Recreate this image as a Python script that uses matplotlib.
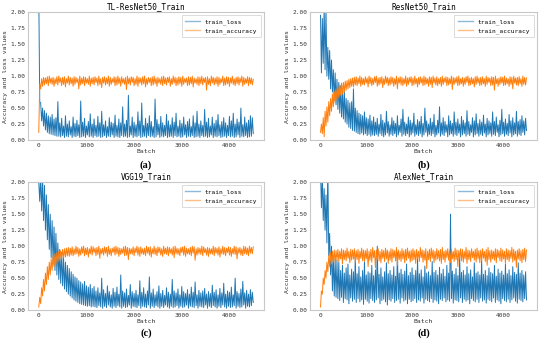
import numpy as np
import matplotlib
matplotlib.use('Agg')
import matplotlib.pyplot as plt

# every curve is stored as two lists:
# one value every 40 batches (batch) and one in between (batch + 20)
batch = np.arange(0, 4481, 40)

titles = ['TL-ResNet50_Train', 'ResNet50_Train', 'VGG19_Train', 'AlexNet_Train']
captions = ['(a)', '(b)', '(c)', '(d)']

# ---- (a) TL-ResNet50 ----
loss_a_hi = [2.30, 0.58, 0.50, 0.46, 0.42, 0.38, 0.36, 0.40, 0.33, 0.35,
             0.60, 0.27, 0.34, 0.22, 0.38, 0.25, 0.30, 0.21, 0.36, 0.26,
             0.31, 0.24, 0.61, 0.28, 0.34, 0.22, 0.29, 0.41, 0.25, 0.33,
             0.23, 0.37, 0.27, 0.45, 0.24, 0.30, 0.21, 0.35, 0.28, 0.26,
             0.39, 0.23, 0.33, 0.27, 0.52, 0.25, 0.31, 0.70, 0.22, 0.36,
             0.28, 0.24, 0.44, 0.30, 0.58, 0.23, 0.34, 0.26, 0.38, 0.29,
             0.21, 0.64, 0.32, 0.25, 0.37, 0.27, 0.23, 0.40, 0.30, 0.24,
             0.35, 0.28, 0.42, 0.22, 0.31, 0.26, 0.36, 0.24, 0.29, 0.33,
             0.21, 0.38, 0.27, 0.45, 0.25, 0.30, 0.23, 0.48, 0.28, 0.34,
             0.22, 0.36, 0.26, 0.31, 0.40, 0.24, 0.29, 0.35, 0.27, 0.23,
             0.37, 0.30, 0.42, 0.25, 0.33, 0.28, 0.50, 0.24, 0.36, 0.27,
             0.31, 0.38, 0.35]
loss_a_lo = [0.60, 0.30, 0.22, 0.16, 0.12, 0.10, 0.09, 0.08, 0.07, 0.06,
             0.06, 0.05, 0.07, 0.04, 0.06, 0.05, 0.08, 0.04, 0.06, 0.05,
             0.07, 0.04, 0.05, 0.06, 0.04, 0.08, 0.05, 0.06, 0.04, 0.07,
             0.05, 0.06, 0.04, 0.05, 0.07, 0.04, 0.06, 0.05, 0.08, 0.04,
             0.06, 0.05, 0.04, 0.07, 0.05, 0.06, 0.04, 0.05, 0.08, 0.04,
             0.06, 0.05, 0.07, 0.04, 0.05, 0.06, 0.04, 0.07, 0.05, 0.06,
             0.04, 0.05, 0.08, 0.04, 0.06, 0.05, 0.07, 0.04, 0.05, 0.06,
             0.04, 0.07, 0.05, 0.06, 0.04, 0.05, 0.08, 0.04, 0.06, 0.05,
             0.07, 0.04, 0.05, 0.06, 0.04, 0.07, 0.05, 0.06, 0.04, 0.05,
             0.08, 0.04, 0.06, 0.05, 0.07, 0.04, 0.05, 0.06, 0.04, 0.07,
             0.05, 0.06, 0.04, 0.05, 0.08, 0.04, 0.06, 0.05, 0.07, 0.04,
             0.05, 0.06, 0.10]
acc_a_lo = [0.12, 0.80, 0.84, 0.86, 0.88, 0.85, 0.89, 0.87, 0.84, 0.88,
            0.86, 0.90, 0.85, 0.87, 0.83, 0.89, 0.86, 0.88, 0.84, 0.87,
            0.90, 0.80, 0.86, 0.88, 0.85, 0.89, 0.87, 0.84, 0.88, 0.86,
            0.90, 0.85, 0.87, 0.82, 0.89, 0.86, 0.88, 0.84, 0.87, 0.90,
            0.85, 0.86, 0.88, 0.84, 0.89, 0.87, 0.79, 0.88, 0.86, 0.90,
            0.85, 0.87, 0.84, 0.89, 0.86, 0.88, 0.83, 0.87, 0.90, 0.85,
            0.86, 0.88, 0.84, 0.89, 0.87, 0.85, 0.88, 0.86, 0.90, 0.84,
            0.87, 0.89, 0.85, 0.86, 0.88, 0.84, 0.87, 0.90, 0.85, 0.86,
            0.88, 0.83, 0.89, 0.87, 0.85, 0.88, 0.86, 0.90, 0.78, 0.87,
            0.85, 0.89, 0.86, 0.88, 0.84, 0.87, 0.90, 0.85, 0.86, 0.88,
            0.84, 0.89, 0.87, 0.85, 0.88, 0.86, 0.90, 0.84, 0.87, 0.89,
            0.85, 0.88, 0.86]
acc_a_hi = [0.88, 0.96, 0.98, 0.97, 0.99, 1.00, 0.97, 0.98, 0.96, 0.99,
            1.00, 0.97, 0.98, 0.99, 0.96, 1.00, 0.98, 0.97, 0.99, 0.98,
            0.96, 1.00, 0.97, 0.99, 0.98, 0.96, 1.00, 0.97, 0.98, 0.99,
            0.97, 1.00, 0.96, 0.98, 0.99, 0.97, 1.00, 0.98, 0.96, 0.99,
            0.98, 1.00, 0.97, 0.99, 0.96, 0.98, 1.00, 0.97, 0.99, 0.98,
            0.96, 1.00, 0.98, 0.97, 0.99, 1.00, 0.96, 0.98, 0.97, 0.99,
            1.00, 0.97, 0.98, 0.96, 0.99, 1.00, 0.97, 0.98, 0.99, 0.96,
            1.00, 0.98, 0.97, 0.99, 0.98, 1.00, 0.96, 0.97, 0.99, 0.98,
            1.00, 0.97, 0.96, 0.99, 0.98, 1.00, 0.97, 0.98, 0.99, 0.96,
            1.00, 0.98, 0.97, 0.99, 0.98, 0.96, 1.00, 0.97, 0.99, 0.98,
            0.97, 1.00, 0.96, 0.98, 0.99, 0.97, 1.00, 0.98, 0.96, 0.99,
            0.98, 0.97, 0.95]

# ---- (b) ResNet50 ----
loss_b_hi = [1.95, 1.90, 2.10, 2.05, 1.45, 1.40, 1.25, 1.10, 1.05, 0.95,
             0.90, 0.85, 0.75, 0.78, 0.65, 0.62, 0.58, 0.60, 0.80, 0.50,
             0.46, 0.42, 0.40, 0.38, 0.44, 0.35, 0.33, 0.39, 0.30, 0.36,
             0.28, 0.34, 0.25, 0.40, 0.31, 0.27, 0.45, 0.29, 0.24, 0.35,
             0.30, 0.26, 0.38, 0.23, 0.33, 0.48, 0.28, 0.25, 0.36, 0.31,
             0.27, 0.42, 0.24, 0.32, 0.29, 0.37, 0.26, 0.50, 0.30, 0.25,
             0.34, 0.28, 0.40, 0.23, 0.31, 0.52, 0.27, 0.35, 0.29, 0.24,
             0.38, 0.30, 0.26, 0.44, 0.28, 0.33, 0.25, 0.37, 0.31, 0.27,
             0.46, 0.29, 0.24, 0.35, 0.30, 0.41, 0.26, 0.32, 0.28, 0.39,
             0.25, 0.34, 0.30, 0.27, 0.44, 0.29, 0.36, 0.24, 0.31, 0.48,
             0.28, 0.33, 0.26, 0.40, 0.30, 0.35, 0.27, 0.45, 0.29, 0.32,
             0.38, 0.30, 0.34]
loss_b_lo = [1.05, 1.20, 1.10, 1.00, 0.95, 0.80, 0.75, 0.62, 0.55, 0.48,
             0.42, 0.36, 0.33, 0.28, 0.25, 0.20, 0.18, 0.15, 0.14, 0.12,
             0.10, 0.09, 0.11, 0.08, 0.10, 0.07, 0.09, 0.06, 0.08, 0.07,
             0.09, 0.06, 0.10, 0.07, 0.05, 0.08, 0.11, 0.06, 0.09, 0.07,
             0.10, 0.05, 0.08, 0.12, 0.06, 0.09, 0.07, 0.10, 0.05, 0.08,
             0.11, 0.06, 0.09, 0.07, 0.10, 0.05, 0.08, 0.12, 0.06, 0.09,
             0.07, 0.10, 0.05, 0.08, 0.11, 0.06, 0.09, 0.07, 0.12, 0.05,
             0.08, 0.10, 0.06, 0.09, 0.07, 0.11, 0.05, 0.08, 0.10, 0.06,
             0.09, 0.07, 0.12, 0.05, 0.08, 0.10, 0.06, 0.09, 0.07, 0.11,
             0.05, 0.08, 0.10, 0.06, 0.09, 0.07, 0.12, 0.05, 0.08, 0.10,
             0.06, 0.09, 0.07, 0.11, 0.05, 0.08, 0.10, 0.06, 0.09, 0.07,
             0.12, 0.08, 0.15]
acc_b_lo = [0.12, 0.10, 0.05, 0.22, 0.28, 0.38, 0.45, 0.52, 0.58, 0.62,
            0.66, 0.70, 0.72, 0.75, 0.78, 0.80, 0.82, 0.84, 0.83, 0.86,
            0.85, 0.88, 0.84, 0.87, 0.86, 0.89, 0.83, 0.88, 0.85, 0.87,
            0.90, 0.84, 0.86, 0.88, 0.82, 0.87, 0.89, 0.85, 0.86, 0.88,
            0.84, 0.87, 0.80, 0.89, 0.86, 0.85, 0.88, 0.84, 0.87, 0.90,
            0.85, 0.86, 0.88, 0.83, 0.87, 0.89, 0.85, 0.86, 0.88, 0.84,
            0.87, 0.82, 0.89, 0.86, 0.85, 0.88, 0.84, 0.87, 0.90, 0.85,
            0.86, 0.88, 0.79, 0.87, 0.89, 0.85, 0.86, 0.88, 0.84, 0.87,
            0.90, 0.85, 0.86, 0.88, 0.83, 0.87, 0.89, 0.85, 0.86, 0.88,
            0.84, 0.87, 0.90, 0.85, 0.86, 0.78, 0.88, 0.84, 0.87, 0.89,
            0.85, 0.86, 0.88, 0.84, 0.87, 0.80, 0.89, 0.86, 0.85, 0.88,
            0.84, 0.87, 0.86]
acc_b_hi = [0.25, 0.35, 0.45, 0.52, 0.60, 0.65, 0.72, 0.76, 0.80, 0.84,
            0.86, 0.89, 0.90, 0.92, 0.93, 0.95, 0.96, 0.97, 0.98, 0.99,
            0.97, 1.00, 0.98, 0.96, 0.99, 0.97, 1.00, 0.98, 0.96, 0.99,
            1.00, 0.97, 0.98, 0.99, 0.96, 1.00, 0.98, 0.97, 0.99, 0.98,
            0.96, 1.00, 0.97, 0.99, 0.98, 0.96, 1.00, 0.97, 0.98, 0.99,
            0.97, 1.00, 0.96, 0.98, 0.99, 0.97, 1.00, 0.98, 0.96, 0.99,
            0.98, 1.00, 0.97, 0.99, 0.96, 0.98, 1.00, 0.97, 0.99, 0.98,
            0.96, 1.00, 0.98, 0.97, 0.99, 1.00, 0.96, 0.98, 0.97, 0.99,
            1.00, 0.97, 0.98, 0.96, 0.99, 1.00, 0.97, 0.98, 0.99, 0.96,
            1.00, 0.98, 0.97, 0.99, 0.98, 1.00, 0.96, 0.97, 0.99, 0.98,
            1.00, 0.97, 0.96, 0.99, 0.98, 1.00, 0.97, 0.98, 0.99, 0.96,
            1.00, 0.98, 0.97]

# ---- (c) VGG19 ----
loss_c_hi = [2.00, 2.10, 2.05, 1.95, 1.80, 1.65, 1.50, 1.40, 1.30, 1.20,
             1.05, 0.95, 0.90, 0.82, 0.75, 0.70, 0.65, 0.60, 0.56, 0.52,
             0.50, 0.46, 0.44, 0.41, 0.45, 0.38, 0.36, 0.40, 0.34, 0.37,
             0.30, 0.35, 0.27, 0.50, 0.32, 0.26, 0.38, 0.29, 0.24, 0.34,
             0.28, 0.36, 0.25, 0.55, 0.30, 0.27, 0.33, 0.23, 0.40, 0.29,
             0.26, 0.31, 0.24, 0.46, 0.28, 0.35, 0.25, 0.30, 0.52, 0.27,
             0.33, 0.24, 0.29, 0.38, 0.26, 0.31, 0.23, 0.35, 0.28, 0.25,
             0.48, 0.30, 0.27, 0.33, 0.24, 0.37, 0.29, 0.26, 0.32, 0.25,
             0.36, 0.28, 0.44, 0.24, 0.31, 0.27, 0.30, 0.34, 0.25, 0.29,
             0.26, 0.39, 0.28, 0.32, 0.24, 0.34, 0.27, 0.42, 0.25, 0.30,
             0.28, 0.36, 0.24, 0.50, 0.29, 0.26, 0.33, 0.45, 0.27, 0.31,
             0.25, 0.32, 0.28]
loss_c_lo = [1.70, 1.55, 1.40, 1.25, 1.10, 0.95, 0.82, 0.72, 0.62, 0.55,
             0.48, 0.42, 0.38, 0.33, 0.29, 0.25, 0.22, 0.19, 0.16, 0.14,
             0.12, 0.10, 0.09, 0.08, 0.07, 0.06, 0.07, 0.05, 0.06, 0.05,
             0.04, 0.07, 0.05, 0.03, 0.06, 0.04, 0.08, 0.05, 0.03, 0.06,
             0.04, 0.07, 0.05, 0.03, 0.06, 0.04, 0.05, 0.08, 0.03, 0.06,
             0.05, 0.04, 0.07, 0.03, 0.06, 0.05, 0.04, 0.08, 0.03, 0.06,
             0.04, 0.07, 0.05, 0.03, 0.06, 0.04, 0.08, 0.05, 0.03, 0.06,
             0.04, 0.05, 0.07, 0.03, 0.06, 0.04, 0.05, 0.08, 0.03, 0.06,
             0.05, 0.04, 0.07, 0.03, 0.06, 0.05, 0.04, 0.08, 0.03, 0.06,
             0.04, 0.07, 0.05, 0.03, 0.06, 0.04, 0.08, 0.05, 0.03, 0.06,
             0.04, 0.05, 0.07, 0.03, 0.06, 0.04, 0.05, 0.08, 0.03, 0.06,
             0.05, 0.07, 0.12]
acc_c_lo = [0.05, 0.10, 0.22, 0.30, 0.40, 0.48, 0.55, 0.62, 0.68, 0.72,
            0.75, 0.78, 0.80, 0.82, 0.83, 0.85, 0.84, 0.86, 0.85, 0.87,
            0.88, 0.84, 0.86, 0.89, 0.85, 0.87, 0.83, 0.88, 0.86, 0.90,
            0.85, 0.87, 0.81, 0.88, 0.86, 0.89, 0.84, 0.87, 0.85, 0.90,
            0.86, 0.88, 0.84, 0.87, 0.89, 0.85, 0.86, 0.79, 0.88, 0.87,
            0.85, 0.90, 0.86, 0.84, 0.88, 0.87, 0.85, 0.89, 0.86, 0.83,
            0.88, 0.87, 0.85, 0.90, 0.86, 0.84, 0.88, 0.87, 0.85, 0.89,
            0.86, 0.82, 0.88, 0.87, 0.85, 0.90, 0.86, 0.84, 0.88, 0.87,
            0.85, 0.89, 0.78, 0.86, 0.88, 0.87, 0.85, 0.90, 0.86, 0.84,
            0.88, 0.87, 0.85, 0.89, 0.86, 0.83, 0.88, 0.87, 0.85, 0.90,
            0.86, 0.84, 0.88, 0.87, 0.80, 0.89, 0.86, 0.85, 0.88, 0.87,
            0.85, 0.89, 0.88]
acc_c_hi = [0.20, 0.35, 0.48, 0.58, 0.68, 0.75, 0.80, 0.85, 0.88, 0.90,
            0.92, 0.93, 0.95, 0.96, 0.97, 0.98, 0.97, 0.99, 0.96, 1.00,
            0.98, 0.96, 0.99, 1.00, 0.97, 0.98, 0.96, 1.00, 0.99, 0.97,
            0.98, 1.00, 0.96, 0.97, 0.99, 0.98, 1.00, 0.96, 0.97, 0.99,
            1.00, 0.98, 0.97, 0.96, 0.99, 1.00, 0.98, 0.97, 0.96, 0.99,
            0.97, 1.00, 0.98, 0.99, 0.96, 0.97, 1.00, 0.98, 0.99, 0.96,
            1.00, 0.97, 0.99, 0.98, 0.96, 1.00, 0.97, 0.99, 0.98, 0.96,
            0.99, 1.00, 0.97, 0.96, 0.98, 0.99, 1.00, 0.97, 0.96, 0.98,
            1.00, 0.99, 0.96, 0.98, 0.97, 1.00, 0.99, 0.96, 0.98, 0.97,
            0.96, 1.00, 0.98, 0.97, 0.99, 0.96, 1.00, 0.98, 0.97, 0.99,
            0.98, 0.96, 1.00, 0.99, 0.97, 0.98, 0.96, 1.00, 0.99, 0.97,
            1.00, 0.98, 0.99]

# ---- (d) AlexNet ----
loss_d_hi = [2.20, 2.10, 1.90, 1.80, 2.30, 1.20, 1.00, 0.85, 0.80, 0.78,
             0.75, 0.62, 0.70, 0.58, 0.66, 0.72, 0.55, 0.64, 0.60, 0.85,
             0.57, 0.68, 0.52, 0.62, 0.75, 0.55, 0.60, 0.58, 0.70, 0.54,
             0.63, 1.00, 0.56, 0.66, 0.52, 0.60, 0.74, 0.57, 0.62, 0.55,
             0.68, 0.53, 0.90, 0.58, 0.64, 0.56, 0.61, 0.72, 0.54, 0.59,
             0.66, 0.55, 0.62, 0.80, 0.57, 0.63, 0.52, 0.69, 0.58, 0.60,
             0.54, 0.76, 0.59, 0.62, 0.55, 0.67, 0.57, 0.64, 0.53, 0.70,
             0.58, 1.50, 0.61, 0.56, 0.65, 0.54, 0.84, 0.59, 0.62, 0.55,
             0.68, 0.57, 0.63, 0.52, 0.74, 0.58, 0.60, 0.55, 0.78, 0.56,
             0.62, 0.54, 0.66, 0.59, 0.57, 0.70, 0.53, 0.64, 0.58, 0.61,
             0.55, 0.72, 0.57, 0.63, 0.54, 0.68, 0.59, 0.56, 0.74, 0.58,
             0.62, 0.55, 0.60]
loss_d_lo = [1.60, 1.40, 1.25, 1.05, 0.85, 0.55, 0.30, 0.22, 0.20, 0.18,
             0.15, 0.20, 0.12, 0.18, 0.16, 0.10, 0.19, 0.14, 0.17, 0.12,
             0.18, 0.13, 0.16, 0.09, 0.17, 0.14, 0.11, 0.18, 0.15, 0.12,
             0.16, 0.19, 0.10, 0.15, 0.17, 0.13, 0.08, 0.16, 0.14, 0.18,
             0.12, 0.15, 0.17, 0.11, 0.19, 0.14, 0.16, 0.10, 0.17, 0.13,
             0.15, 0.18, 0.12, 0.16, 0.14, 0.19, 0.11, 0.17, 0.15, 0.13,
             0.18, 0.12, 0.16, 0.14, 0.10, 0.17, 0.15, 0.19, 0.13, 0.16,
             0.14, 0.18, 0.11, 0.16, 0.15, 0.13, 0.19, 0.12, 0.17, 0.14,
             0.16, 0.10, 0.18, 0.15, 0.13, 0.17, 0.12, 0.19, 0.14, 0.16,
             0.11, 0.17, 0.15, 0.13, 0.19, 0.12, 0.16, 0.14, 0.10, 0.18,
             0.15, 0.13, 0.17, 0.12, 0.16, 0.19, 0.14, 0.11, 0.17, 0.15,
             0.13, 0.18, 0.16]
acc_d_lo = [0.05, 0.25, 0.40, 0.50, 0.60, 0.68, 0.72, 0.75, 0.74, 0.78,
            0.76, 0.80, 0.72, 0.79, 0.77, 0.81, 0.74, 0.78, 0.80, 0.75,
            0.79, 0.73, 0.81, 0.77, 0.76, 0.80, 0.68, 0.78, 0.75, 0.82,
            0.66, 0.79, 0.77, 0.74, 0.81, 0.76, 0.80, 0.73, 0.78, 0.75,
            0.82, 0.77, 0.70, 0.79, 0.76, 0.80, 0.74, 0.78, 0.81, 0.75,
            0.77, 0.79, 0.73, 0.80, 0.76, 0.82, 0.75, 0.78, 0.65, 0.79,
            0.76, 0.81, 0.74, 0.78, 0.80, 0.77, 0.73, 0.79, 0.75, 0.82,
            0.78, 0.74, 0.80, 0.76, 0.79, 0.68, 0.81, 0.77, 0.75, 0.80,
            0.73, 0.79, 0.76, 0.82, 0.78, 0.75, 0.80, 0.74, 0.77, 0.81,
            0.76, 0.70, 0.79, 0.75, 0.80, 0.78, 0.74, 0.82, 0.77, 0.76,
            0.80, 0.73, 0.79, 0.76, 0.81, 0.75, 0.78, 0.67, 0.80, 0.77,
            0.74, 0.79, 0.76]
acc_d_hi = [0.30, 0.50, 0.62, 0.75, 0.85, 0.90, 0.92, 0.94, 0.93, 0.95,
            0.92, 0.96, 0.94, 0.93, 0.97, 0.92, 0.95, 0.94, 0.96, 0.93,
            0.95, 0.92, 0.97, 0.94, 0.93, 0.96, 0.92, 0.95, 0.98, 0.93,
            0.94, 0.96, 0.92, 0.95, 0.93, 0.97, 0.94, 0.92, 0.96, 0.95,
            0.93, 0.98, 0.94, 0.92, 0.96, 0.93, 0.95, 0.97, 0.92, 0.94,
            0.96, 0.93, 0.95, 0.92, 0.98, 0.94, 0.93, 0.96, 0.92, 0.95,
            0.97, 0.94, 0.92, 0.96, 0.93, 0.95, 0.98, 0.92, 0.94, 0.96,
            0.93, 0.95, 0.92, 0.97, 0.94, 0.93, 0.96, 0.95, 0.92, 0.98,
            0.94, 0.93, 0.96, 0.92, 0.95, 0.97, 0.93, 0.94, 0.96, 0.92,
            0.95, 0.98, 0.93, 0.94, 0.92, 0.96, 0.95, 0.93, 0.97, 0.94,
            0.92, 0.96, 0.94, 0.93, 0.98, 0.95, 0.92, 0.94, 0.96, 0.93,
            0.95, 0.97, 0.94]

# (value at batch, value at batch + 20) for each panel
losses = [(loss_a_hi, loss_a_lo), (loss_b_hi, loss_b_lo),
          (loss_c_hi, loss_c_lo), (loss_d_hi, loss_d_lo)]
accs = [(acc_a_lo, acc_a_hi), (acc_b_lo, acc_b_hi),
        (acc_c_lo, acc_c_hi), (acc_d_lo, acc_d_hi)]


def weave(first, second):
    x = np.empty(2 * len(batch))
    y = np.empty(2 * len(batch))
    x[0::2] = batch
    x[1::2] = batch + 20
    y[0::2] = first
    y[1::2] = second
    return x, y


plt.rcParams['font.family'] = 'DejaVu Sans Mono'

fig = plt.figure(figsize=(5.5, 3.45), dpi=100)

# axes boxes in figure fractions: left, bottom, width, height
boxes = [[0.051, 0.594, 0.429, 0.371],
         [0.564, 0.594, 0.412, 0.371],
         [0.051, 0.101, 0.429, 0.371],
         [0.564, 0.101, 0.412, 0.371]]
caption_y = [0.522, 0.522, 0.035, 0.035]


def draw_panel(ax, loss, acc, title):
    xl, yl = weave(*loss)
    xa, ya = weave(*acc)
    ax.plot(xl, yl, color='#1f77b4', lw=0.7, label='train_loss')
    ax.plot(xa, ya, color='#ff7f0e', lw=0.7, label='train_accuracy')
    ax.set_ylim(0, 2.0)
    ax.set_yticks([0, 0.25, 0.5, 0.75, 1.0, 1.25, 1.5, 1.75, 2.0])
    ax.set_xticks([0, 1000, 2000, 3000, 4000])
    ax.set_title(title, fontsize=5.5, pad=2)
    ax.set_xlabel('Batch', fontsize=4.6, labelpad=0.5, color='#333333')
    ax.set_ylabel('Accuracy and loss values', fontsize=4.6, labelpad=1.5, color='#333333')
    ax.tick_params(length=0, labelsize=4.4, pad=2, colors='#333333')
    for s in ax.spines.values():
        s.set_color('#c8c8c8')
        s.set_linewidth(0.8)
    leg = ax.legend(loc='upper right', fontsize=4.4, handlelength=2.4,
                    borderpad=0.6, labelspacing=0.5, fancybox=False)
    leg.get_frame().set_edgecolor('#cccccc')
    leg.get_frame().set_linewidth(0.6)
    for line in leg.get_lines():
        line.set_alpha(0.5)
        line.set_linewidth(1.0)


for i in range(4):
    ax = fig.add_axes(boxes[i])
    draw_panel(ax, losses[i], accs[i], titles[i])
    b = boxes[i]
    fig.text(b[0] + b[2] / 2, caption_y[i], captions[i], ha='center', va='center',
             family='Liberation Serif', fontweight='bold', fontsize=7.5)

fig.savefig('out.png', dpi=100)
